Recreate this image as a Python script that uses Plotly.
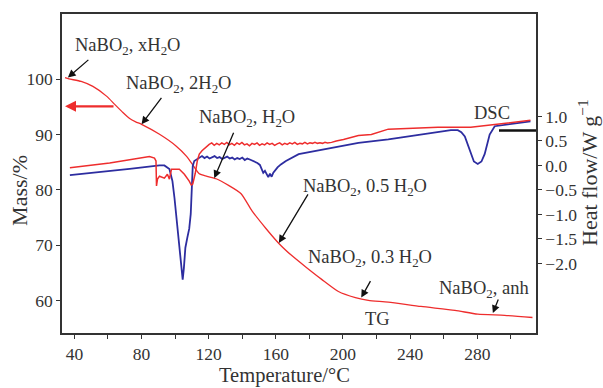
import plotly.graph_objects as go

# TG (mass %) curve
tg_temp = [34.4, 36.7, 44.0, 51.0, 59.3, 64.0, 68.5, 72.9, 76.5, 80.0, 90.7, 100.7, 106.7, 110.2, 114.4,
           119.0, 124.4, 132.1, 139.3, 145.8, 154.1, 161.8, 169.5, 178, 187.3, 197.3, 207.4, 215.1, 227.0,
           246.5, 266.7, 280.3, 296.3, 312.9]
tg_mass = [100.3, 100.07, 99.6, 98.7, 96.9, 95.45, 94.1, 92.9, 92.3, 91.85, 90.05, 87.9, 86.1, 84.65, 82.9,
           82.45, 82.0, 80.75, 79.3, 76.2, 73.0, 70.3, 68.1, 66.0, 63.8, 61.6, 60.5, 60.0, 59.7,
           58.9, 58.2, 57.5, 57.3, 56.9]

# DSC curve (blue)
dsc_temp = [37.3, 55.1, 72.9, 90.7, 93.6, 96.6, 98.4, 99.6, 101.3, 102.5, 103.7, 104.5, 105.2, 106.1,
            107.3, 108.4, 109.3, 109.9, 110.5, 111.4, 114.4, 116, 117.5, 119, 120.5, 122, 123.5, 125,
            126.5, 128, 129.5, 131, 132.5, 134, 135.5, 137, 138.5, 140, 141.5, 143, 144.5, 146, 147.5,
            149, 150.5, 151.5, 152.5, 153.5, 154.5, 155.5, 156.5, 157.5, 158.5, 159.5, 161, 163, 166,
            173.6, 193.2, 209.2, 227, 264.3, 268.4, 270.5, 272.6, 276.1, 278, 280.3, 282.5, 284.4, 286,
            287.4, 290.4, 311.7]
dsc_heat = [-0.20, -0.14, -0.07, 0.0, 0.0, -0.075, -0.32, -0.66, -1.23, -1.68, -2.10, -2.33, -2.10, -1.68,
            -1.47, -1.29, -0.99, -0.52, -0.01, 0.09, 0.16, 0.19, 0.15, 0.18, 0.14, 0.17, 0.19, 0.15,
            0.17, 0.13, 0.16, 0.18, 0.14, 0.16, 0.12, 0.15, 0.13, 0.16, 0.11, 0.14, 0.12, 0.10, 0.08,
            0.05, 0.01, -0.08, -0.15, -0.11, -0.19, -0.24, -0.17, -0.23, -0.15, -0.10, -0.04, 0.02, 0.09,
            0.23, 0.36, 0.46, 0.53, 0.72, 0.72, 0.68, 0.59, 0.23, 0.08, 0.03, 0.08, 0.23, 0.45,
            0.63, 0.80, 0.90]

# second DSC curve (red)
dsc2_temp = [37.3, 61, 84.7, 87.7, 88.6, 88.9, 89.5, 90.7, 93.6, 95.4, 96.6, 97.8, 102.5, 105.5, 108.4,
             109.6, 110.5, 112.0, 113.2, 114.4, 116, 118, 120.3, 121.8, 123.3, 124.8, 126.3, 127.8, 129.3,
             130.8, 132.3, 133.8, 135.3, 136.8, 138.3, 139.8, 141.3, 142.8, 144.3, 145.8, 147.3, 148.8,
             150.3, 151.8, 153.3, 154.8, 156.3, 157.8, 159.3, 160.8, 162.3, 163.8, 165.3, 166.8, 168.3,
             169.8, 171.3, 172.8, 174.3, 175.8, 177.3, 178.8, 180.3, 181.8, 183.3, 184.8, 186.3, 187.8,
             189.3, 190.8, 193.2, 196, 200.3, 209.2, 216.9, 227, 256.6, 276.1, 290.4, 311.7]
dsc2_heat = [-0.05, 0.05, 0.18, 0.15, 0.09, -0.42, -0.28, -0.22, -0.26, -0.18, -0.28, -0.08, -0.08, -0.18,
             -0.32, -0.40, -0.38, -0.16, 0.09, 0.23, 0.30, 0.37, 0.43, 0.46, 0.41, 0.45, 0.42, 0.46, 0.43,
             0.47, 0.42, 0.45, 0.41, 0.46, 0.43, 0.47, 0.42, 0.44, 0.40, 0.45, 0.43, 0.46,
             0.41, 0.44, 0.42, 0.46, 0.43, 0.45, 0.41, 0.44, 0.46, 0.42, 0.45, 0.43, 0.46,
             0.44, 0.47, 0.43, 0.45, 0.44, 0.47, 0.44, 0.46, 0.45, 0.47, 0.45, 0.46, 0.45,
             0.47, 0.46, 0.47, 0.50, 0.53, 0.61, 0.63, 0.74, 0.78, 0.78, 0.84, 0.92]

x_ticks = [40, 60, 80, 100, 120, 140, 160, 180, 200, 220, 240, 260, 280, 300]
x_labels = ["40", "", "80", "", "120", "", "160", "", "200", "", "240", "", "280", ""]
mass_ticks = [60, 70, 80, 90, 100]
heat_ticks = [1.0, 0.5, 0.0, -0.5, -1.0, -1.5, -2.0]
heat_labels = ["1.0", "0.5", "0.0", "\u22120.5", "\u22121.0", "\u22121.5", "\u22122.0"]

FONT = "Liberation Serif, Times New Roman, serif"
RED = "rgb(238,45,45)"
BLUE = "rgb(45,45,160)"
INK = "#333333"

fig = go.Figure()
fig.add_trace(go.Scatter(x=dsc_temp, y=dsc_heat, mode="lines", yaxis="y2",
                         line=dict(color=BLUE, width=1.8), showlegend=False))
fig.add_trace(go.Scatter(x=dsc2_temp, y=dsc2_heat, mode="lines", yaxis="y2",
                         line=dict(color=RED, width=1.5), showlegend=False))
fig.add_trace(go.Scatter(x=tg_temp, y=tg_mass, mode="lines",
                         line=dict(color=RED, width=1.3, shape="spline", smoothing=0.6),
                         showlegend=False))

L, R, T, B = 62, 67, 12, 55
W, H = 603, 388
pw, ph = W - L - R, H - T - B


def px(xp):
    return (xp - L) / pw


def py(yp):
    return 1 - (yp - T) / ph


annots = []
labels = [
    ("NaBO<sub>2</sub>, xH<sub>2</sub>O", 127, 45),
    ("NaBO<sub>2</sub>, 2H<sub>2</sub>O", 178, 83),
    ("NaBO<sub>2</sub>, H<sub>2</sub>O", 247, 117),
    ("NaBO<sub>2</sub>, 0.5 H<sub>2</sub>O", 365, 187),
    ("NaBO<sub>2</sub>, 0.3 H<sub>2</sub>O", 370, 258),
    ("NaBO<sub>2</sub>, anh", 484, 289),
    ("TG", 377, 319),
    ("DSC", 492, 112),
]
for txt, xp, yp in labels:
    annots.append(dict(text=txt, x=px(xp), y=py(yp), xref="paper", yref="paper",
                       xanchor="center", yanchor="middle", showarrow=False,
                       font=dict(family=FONT, size=18.5, color=INK)))

arrows = [
    (36.1, 100.3, 22, -19),
    (80.0, 91.85, 21, -28),
    (123.3, 82.1, 20, -47),
    (161.8, 70.4, 30, -50),
    (210.9, 60.5, 10, -18),
    (289.3, 57.7, 6, -15),
]
for xt, yt, ax, ay in arrows:
    annots.append(dict(text="", x=xt, y=yt, xref="x", yref="y", ax=ax, ay=ay,
                       showarrow=True, arrowhead=2, arrowsize=1.2, arrowwidth=1.3,
                       arrowcolor="#111111"))

# red arrow pointing to the mass axis
annots.append(dict(text="", x=34.4, y=95.1, xref="x", yref="y", ax=50, ay=0,
                   showarrow=True, arrowhead=2, arrowsize=1, arrowwidth=2.2, arrowcolor=RED))

# axis titles
annots.append(dict(text="Mass/%", x=px(20), y=py(190), xref="paper", yref="paper",
                   textangle=-90, showarrow=False, xanchor="center", yanchor="middle",
                   font=dict(family=FONT, size=22, color=INK)))
annots.append(dict(text="Heat flow/W g<sup>\u22121</sup>", x=px(588), y=py(172), xref="paper",
                   yref="paper", textangle=-90, showarrow=False, xanchor="center", yanchor="middle",
                   font=dict(family=FONT, size=22, color=INK)))
annots.append(dict(text="Temperature/\u00b0C", x=px(284), y=py(388), xref="paper", yref="paper",
                   showarrow=False, xanchor="center", yanchor="bottom", borderpad=0,
                   font=dict(family=FONT, size=20.5, color=INK)))

axis_common = dict(showgrid=False, zeroline=False, showline=True, linecolor=INK, linewidth=1.6,
                   ticks="outside", ticklen=4, tickwidth=1.3, tickcolor=INK,
                   tickfont=dict(family=FONT, size=17.5, color=INK))

fig.update_layout(
    width=W, height=H,
    margin=dict(l=L, r=R, t=T, b=B),
    paper_bgcolor="white", plot_bgcolor="white",
    xaxis=dict(range=[32.6, 315], tickvals=x_ticks, ticktext=x_labels, mirror=True, **axis_common),
    yaxis=dict(range=[54.1, 111.8], tickvals=mass_ticks, **axis_common),
    yaxis2=dict(range=[-3.42, 3.09], overlaying="y", side="right", tickvals=heat_ticks,
                ticktext=heat_labels, **axis_common),
    annotations=annots,
    shapes=[dict(type="line", xref="paper", yref="y2", x0=px(499), x1=1.0, y0=0.71, y1=0.71,
                 line=dict(color="#111111", width=2.5))],
)

fig.write_html("out.html")
